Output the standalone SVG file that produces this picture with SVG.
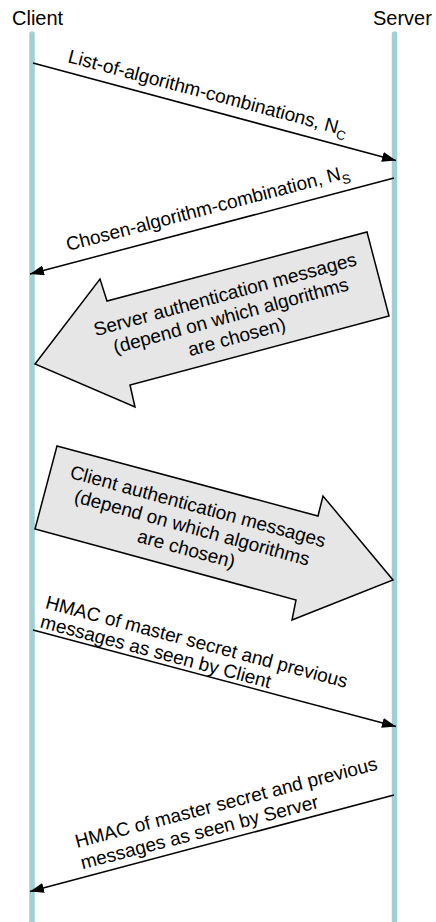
<svg xmlns="http://www.w3.org/2000/svg" width="436" height="922" viewBox="0 0 436 922">
<defs>
<style>
text{font-family:"Liberation Sans",Arial,Helvetica,sans-serif;fill:#000}
.hdr{font-size:20px}
.lbl{font-size:19px}
.sub{font-size:13px}
.life{stroke:#a2d0d2;stroke-width:5.5;stroke-linecap:round;fill:none}
.msg{stroke:#000;stroke-width:1.5;fill:none;marker-end:url(#ah)}
.big{fill:#e6e6e6;stroke:#000;stroke-width:1.5;stroke-linejoin:miter}
</style>
<marker id="ah" markerUnits="userSpaceOnUse" markerWidth="15" markerHeight="11" refX="14" refY="5" orient="auto">
<path d="M0,0 L14,5 L0,10 z" fill="#000"/>
</marker>
</defs>
<rect width="436" height="922" fill="#fff"/>
<g id="client">
<text class="hdr" x="12" y="25">Client</text>
<line class="life" x1="32" y1="34" x2="32" y2="925"/>
</g>
<g id="server">
<text class="hdr" x="373" y="25">Server</text>
<line class="life" x1="394.5" y1="34" x2="394.5" y2="925"/>
</g>
<g id="connectors">
<line class="msg" x1="33" y1="63" x2="396" y2="160.5"/>
<line class="msg" x1="394" y1="178" x2="30" y2="274"/>
<line class="msg" x1="33" y1="630" x2="396" y2="726.5"/>
<line class="msg" x1="394" y1="795" x2="30" y2="891.5"/>
</g>
<g id="label1">
<text class="lbl" transform="translate(67,62) rotate(14.85)">List-of-algorithm-combinations, N<tspan class="sub" dy="5">C</tspan></text>
</g>
<g id="label2">
<text class="lbl" transform="translate(68,251) rotate(-14.6)">Chosen-algorithm-combination, N<tspan class="sub" dy="5">S</tspan></text>
</g>
<g id="server-auth">
<polygon class="big" points="35,364 100,279 107,301 367,232 389,316 130,385 135,407"/>
<g transform="translate(231,316) rotate(-15.2)">
<text class="lbl" text-anchor="middle" x="0" y="-16">Server authentication messages</text>
<text class="lbl" text-anchor="middle" x="0" y="6">(depend on which algorithms</text>
<text class="lbl" text-anchor="middle" x="0" y="28">are chosen)</text>
</g>
</g>
<g id="client-auth">
<polygon class="big" points="57,446 318,516 323,496 393,580 292,620 296,600 35,529"/>
<g transform="translate(192,528) rotate(15.3)">
<text class="lbl" text-anchor="middle" x="0" y="-16">Client authentication messages</text>
<text class="lbl" text-anchor="middle" x="0" y="6">(depend on which algorithms</text>
<text class="lbl" text-anchor="middle" x="0" y="28">are chosen)</text>
</g>
</g>
<g id="label3">
<g transform="translate(44.5,608) rotate(14.85)">
<text class="lbl" x="0" y="0">HMAC of master secret and previous</text>
<text class="lbl" x="0" y="20">messages as seen by Client</text>
</g>
</g>
<g id="label4">
<g transform="translate(77,848) rotate(-14.6)">
<text class="lbl" x="0" y="0">HMAC of master secret and previous</text>
<text class="lbl" x="0" y="22">messages as seen by Server</text>
</g>
</g>
</svg>
